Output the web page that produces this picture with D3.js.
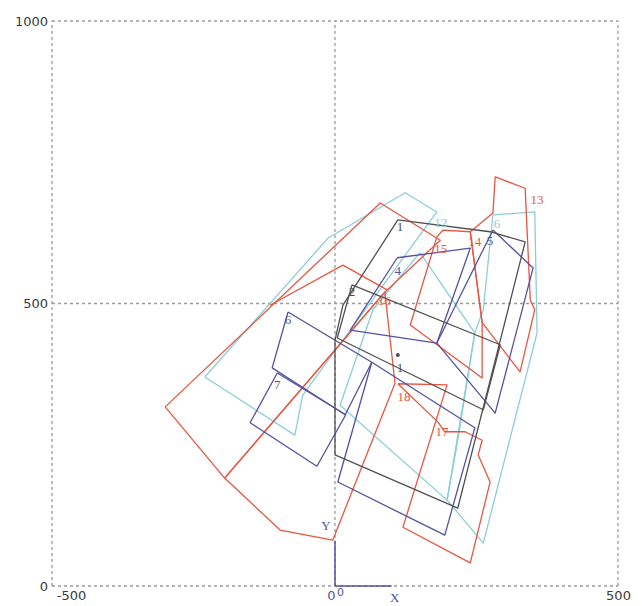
<!DOCTYPE html>
<html>
<head>
<meta charset="utf-8">
<script src="https://cdn.jsdelivr.net/npm/d3@7"></script>
<style>
  body { margin: 0; background: #fff; }
  svg { display: block; }
</style>
</head>
<body>
<script>
// Ticks
const xTicks = [-500, 0, 500];
const yTicks = [0, 500, 1000];

// Polygons (data units) - black
const black1 = [[111,648],[274,627],[336,609],[217,138],[0,232],[0,435],[14,497]];
const black2 = [[30,533],[292,427],[262,312],[4,439]];

// dark blue
const blue4 = [[110,581],[239,598],[180,430],[27,453]];
const blue5 = [[279,630],[350,563],[283,306],[180,430]];
const blue6 = [[-83,485],[65,396],[18,303],[-111,386]];
const blue7 = [[-102,377],[19,303],[-32,212],[-150,289]];
const blue18 = [[65,396],[247,280],[194,90],[5,184]];

// cyan
const cyan12 = [[-230,370],[-12,616],[124,696],[180,662],[27,453],[-57,338],[-71,267]];
const cyan6 = [[279,657],[353,662],[357,448],[262,76],[198,152],[247,448],[262,489]];
const cyanMid = [[150,590],[67,489],[9,320],[198,152],[217,258],[247,448]];

// red
const redFan = [[-300,317],[80,678],[186,612],[88,520],[-195,191]];
const redB = [[-195,191],[-97,99],[-4,81],[106,359],[88,520]];
const red13 = [[239,627],[279,660],[283,724],[336,704],[345,506],[353,489],[327,379],[260,466]];
const red14 = [[180,618],[191,630],[239,627],[260,466],[260,368],[133,462]];
const red15 = [[111,358],[198,356],[120,104],[239,41],[274,184],[253,232],[260,258],[230,273],[194,273],[182,290]];
const red16 = [[-115,497],[14,568],[92,524]];

// labels: [x, y, text]
const blackLabels = [[115,637,"1"],[30,522,"2"],[115,386,"1"]];
const blueLabels = [[111,559,"4"],[274,612,"5"],[-83,471,"6"],[-102,356,"7"]];
const cyanLabels = [[187,644,"12"],[286,641,"6"]];
const redLabels = [[357,685,"13"],[247,609,"14"],[187,598,"15"],[87,506,"16"],[122,336,"18"],[189,274,"17"]];

const colors = {black: "#505050", blue: "#5252a0", cyan: "#8ccdda", red: "#e85540"};

const W = 642, H = 606;
const x = d3.scaleLinear().domain([-500, 500]).range([52, 618]);
const y = d3.scaleLinear().domain([0, 1000]).range([586, 21]);

const svg = d3.select("body").append("svg")
  .attr("width", W)
  .attr("height", H);

// grid
const grid = svg.append("g")
  .attr("stroke", "#9a9a9a")
  .attr("stroke-width", 1.3)
  .attr("stroke-dasharray", "3,3");
grid.selectAll(".gx").data(xTicks).enter().append("line")
  .attr("x1", d => x(d)).attr("x2", d => x(d))
  .attr("y1", y(0)).attr("y2", y(1000));
grid.selectAll(".gy").data(yTicks).enter().append("line")
  .attr("y1", d => y(d)).attr("y2", d => y(d))
  .attr("x1", x(-500)).attr("x2", x(500));

// axes (labels only)
const yAxis = svg.append("g")
  .attr("transform", "translate(" + x(-500) + ",0)")
  .call(d3.axisLeft(y).tickValues(yTicks).tickSize(0).tickPadding(4).tickFormat(d => String(d)));
const xAxis = svg.append("g")
  .attr("transform", "translate(0," + y(0) + ")")
  .call(d3.axisBottom(x).tickValues(xTicks).tickSize(0).tickPadding(5).tickFormat(d => String(d)));
[yAxis, xAxis].forEach(a => {
  a.select(".domain").remove();
  a.selectAll("text").attr("font-family", "DejaVu Sans").attr("font-size", 13).attr("fill", "#3a3a3a");
});
xAxis.selectAll("text")
  .attr("dx", d => d === -500 ? 19 : d === 0 ? -4 : 0)
  .attr("fill", d => d === 0 ? colors.blue : "#3a3a3a");

// polygons
const line = d3.line().x(d => x(d[0])).y(d => y(d[1]));
function drawPoly(pts, color, closed) {
  svg.append("path")
    .attr("d", line(closed ? pts.concat([pts[0]]) : pts))
    .attr("fill", "none")
    .attr("stroke", color)
    .attr("stroke-width", 1.3)
    .attr("stroke-linejoin", "round");
}

[cyan12, cyan6, cyanMid].forEach(p => drawPoly(p, colors.cyan, true));
[redFan, redB, red13, red14, red15].forEach(p => drawPoly(p, colors.red, true));
drawPoly(red16, colors.red, false);
[blue4, blue5, blue6, blue7, blue18].forEach(p => drawPoly(p, colors.blue, true));
[black1, black2].forEach(p => drawPoly(p, colors.black, true));

// origin marker
svg.append("line").attr("x1", x(0)).attr("x2", x(0)).attr("y1", y(0)).attr("y2", y(80))
  .attr("stroke", colors.blue).attr("stroke-width", 1.5);
svg.append("line").attr("x1", x(0)).attr("x2", x(100)).attr("y1", y(0)).attr("y2", y(0))
  .attr("stroke", colors.blue).attr("stroke-width", 1.5);
svg.append("text").attr("x", x(0) + 2).attr("y", y(0) + 10).text("0")
  .attr("font-family", "DejaVu Sans").attr("font-size", 11).attr("fill", colors.blue);
svg.append("text").attr("x", x(100) + 3).attr("y", y(0) + 16).text("X")
  .attr("font-family", "Liberation Serif").attr("font-size", 13).attr("fill", colors.blue).attr("text-anchor", "middle");
svg.append("text").attr("x", x(-16)).attr("y", y(100)).text("Y")
  .attr("font-family", "Liberation Serif").attr("font-size", 13).attr("fill", colors.blue).attr("text-anchor", "middle");

// point labels
function drawLabels(arr, color) {
  svg.append("g").selectAll("text").data(arr).enter().append("text")
    .attr("x", d => x(d[0]))
    .attr("y", d => y(d[1]))
    .attr("text-anchor", "middle")
    .attr("dy", "0.35em")
    .attr("font-family", "Liberation Serif")
    .attr("font-size", 13)
    .attr("fill", color)
    .text(d => d[2]);
}
drawLabels(blackLabels, colors.black);
drawLabels(blueLabels, colors.blue);
drawLabels(cyanLabels, colors.cyan);
drawLabels(redLabels, colors.red);
svg.append("circle").attr("cx", x(111)).attr("cy", y(409)).attr("r", 2).attr("fill", colors.black);
</script>
</body>
</html>
